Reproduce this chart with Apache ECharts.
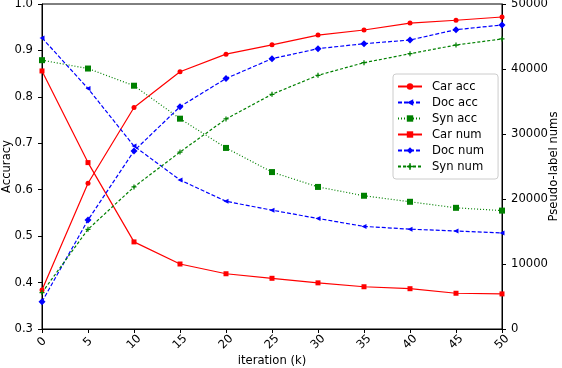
<!DOCTYPE html>
<html><head><meta charset="utf-8">
<script src="https://cdn.jsdelivr.net/npm/echarts@6/dist/echarts.min.js"></script>
<style>html,body{margin:0;padding:0;background:#fff}#c{width:562px;height:368px}</style>
</head><body><div id="c"></div>
<script>
const iterations = [0,5,10,15,20,25,30,35,40,45,50];
const xTicks = [0,5,10,15,20,25,30,35,40,45,50];
const accTicks = [0.3,0.4,0.5,0.6,0.7,0.8,0.9,1.0];
const numTicks = [0,10000,20000,30000,40000,50000];

const carAcc = [0.384,0.614,0.777,0.854,0.892,0.912,0.933,0.944,0.959,0.965,0.972];
const docAcc = [0.927,0.818,0.694,0.621,0.575,0.556,0.538,0.521,0.515,0.511,0.507];
const synAcc = [0.879,0.861,0.824,0.753,0.690,0.638,0.606,0.587,0.574,0.561,0.555];
const carNum = [39700,25600,13400,10000,8500,7800,7100,6500,6200,5500,5400];
const docNum = [4200,16770,27390,34200,38540,41590,43130,43890,44460,46050,46770];
const synNum = [5600,15340,21850,27230,32310,36110,39030,40970,42350,43690,44620];

const FONT = 'DejaVu Sans';
const FS = 11.6;
const plusThick = 'path://M3,0H5V3H8V5H5V8H3V5H0V3H3Z';
const triL = 'path://M0,4L8,0L8,8Z';

function pairs(v){ return iterations.map((x,i)=>[x,v[i]]); }
function mk(name, data, yIdx, color, type, symbol, size){
  return {
    name, type:'line', yAxisIndex:yIdx, data:pairs(data),
    symbol, symbolSize:size, showSymbol:true,
    lineStyle:{color, width:1.2, type},
    itemStyle:{color, borderWidth:0},
    emphasis:{disabled:true}, z:3
  };
}
const chart = echarts.init(document.getElementById('c'), null, {renderer:'canvas'});
chart.setOption({
  animation:false,
  textStyle:{fontFamily:FONT},
  grid:{left:42, right:60, top:4, bottom:39, show:true, borderColor:'#000', borderWidth:1, containLabel:false, outerBoundsMode:'none'},
  legend:{
    orient:'vertical', left:393, top:74, itemWidth:24, itemHeight:8, itemGap:3,
    padding:[6,14,6,4], borderColor:'#cccccc', borderWidth:1, borderRadius:3,
    backgroundColor:'rgba(255,255,255,0.8)',
    textStyle:{fontFamily:FONT, fontSize:FS, lineHeight:13, color:'#000', padding:[0,0,0,5]},
    data:['Car acc','Doc acc','Syn acc','Car num','Doc num','Syn num']
  },
  xAxis:{
    type:'value', min:xTicks[0], max:xTicks[xTicks.length-1], interval:5,
    name:'iteration (k)', nameLocation:'middle', nameGap:26, nameMoveOverlap:false,
    nameTextStyle:{fontFamily:FONT, fontSize:FS, color:'#000'},
    axisLine:{show:true, lineStyle:{color:'#000', width:1}},
    axisTick:{show:true, inside:false, length:4, lineStyle:{color:'#000'}},
    axisLabel:{rotate:45, fontFamily:FONT, fontSize:FS, color:'#000', margin:13, align:'center', verticalAlign:'middle'},
    splitLine:{show:false}
  },
  yAxis:[{
    type:'value', position:'left', min:accTicks[0], max:accTicks[accTicks.length-1], interval:0.1,
    name:'Accuracy', nameLocation:'middle', nameGap:29, nameRotate:90, nameMoveOverlap:false,
    nameTextStyle:{fontFamily:FONT, fontSize:FS, color:'#000'},
    axisLine:{show:true, lineStyle:{color:'#000'}},
    axisTick:{show:true, length:4, lineStyle:{color:'#000'}},
    axisLabel:{fontFamily:FONT, fontSize:FS, color:'#000', margin:9, formatter:v=>v.toFixed(1)},
    splitLine:{show:false}
  },{
    type:'value', position:'right', min:numTicks[0], max:numTicks[numTicks.length-1], interval:10000,
    name:'Pseudo-label nums', nameLocation:'middle', nameGap:46, nameRotate:90, nameMoveOverlap:false,
    nameTextStyle:{fontFamily:FONT, fontSize:FS, color:'#000'},
    axisLine:{show:true, lineStyle:{color:'#000'}},
    axisTick:{show:true, length:4, lineStyle:{color:'#000'}},
    axisLabel:{fontFamily:FONT, fontSize:FS, color:'#000', margin:9, formatter:v=>String(v)},
    splitLine:{show:false}
  }],
  series:[
    mk('Car acc', carAcc, 0, '#ff0000', 'solid', 'circle', 5),
    mk('Doc acc', docAcc, 0, '#0000ff', [4,2], triL, 5),
    mk('Syn acc', synAcc, 0, '#008000', [1,2], 'rect', 6),
    mk('Car num', carNum, 1, '#ff0000', 'solid', 'rect', 5),
    mk('Doc num', docNum, 1, '#0000ff', [4,2], 'diamond', 7),
    mk('Syn num', synNum, 1, '#008000', [3,2], plusThick, 5)
  ]
});
</script></body></html>
